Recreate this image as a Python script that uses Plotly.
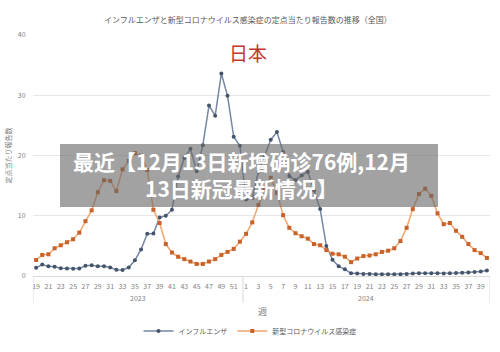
import plotly.graph_objects as go

# ---- data ----
weeks_2023 = list(range(19, 53))
weeks_2024 = list(range(1, 41))
years = ["2023", "2024"]

influenza_2023 = [1.35, 1.9, 1.6, 1.55, 1.3, 1.25, 1.2, 1.25, 1.7, 1.8, 1.6, 1.6, 1.4, 1.05, 1.0, 1.4, 2.6,
                  4.4, 7.0, 7.05, 9.7, 10.0, 11.0, 16.5, 19.6, 21.1, 17.4, 21.7, 28.3, 26.6, 33.6, 29.9, 23.1, 21.6]
influenza_2024 = [12.7, 12.9, 17.3, 19.8, 22.6, 23.9, 20.6, 16.6, 15.9, 16.7, 17.3, 14.2, 11.1, 5.0, 2.7, 1.6,
                  1.1, 0.45, 0.4, 0.35, 0.35, 0.3, 0.3, 0.3, 0.3, 0.3, 0.35, 0.4, 0.45, 0.45, 0.45, 0.45, 0.4,
                  0.45, 0.5, 0.55, 0.6, 0.65, 0.75, 0.9]
covid_2023 = [2.65, 3.5, 3.6, 4.6, 5.1, 5.6, 6.1, 7.2, 9.1, 10.9, 13.9, 15.9, 15.8, 14.1, 17.7, 19.1, 20.4,
              20.0, 17.6, 11.0, 8.8, 5.3, 3.9, 3.2, 2.8, 2.4, 2.0, 2.0, 2.4, 2.8, 3.5, 4.0, 4.5, 5.7]
covid_2024 = [7.0, 8.9, 11.8, 14.3, 16.3, 13.8, 10.1, 8.0, 7.1, 6.6, 6.2, 5.3, 5.1, 4.3, 3.7, 3.6, 3.2, 2.3,
              2.9, 3.3, 3.4, 3.6, 4.0, 4.2, 4.6, 5.8, 8.0, 11.1, 13.6, 14.5, 13.3, 10.4, 8.6, 8.8, 7.5, 6.5,
              5.3, 4.3, 3.8, 3.0]

series_names = ["インフルエンザ", "新型コロナウイルス感染症"]
chart_title = "インフルエンザと新型コロナウイルス感染症の定点当たり報告数の推移（全国）"
y_title = "定点当たり報告数"
x_title = "週"
overlay_text = "最近【12月13日新增确诊76例,12月<br>13日新冠最新情况】"
country_label = "日本"

# ---- build ----
week_labels = [str(w) for w in weeks_2023] + [str(w) for w in weeks_2024]
x_idx = list(range(len(week_labels)))
tick_vals = [i for i, w in enumerate(week_labels) if int(w) % 2 == 1]
tick_text = [week_labels[i] for i in tick_vals]
n23 = len(weeks_2023)
n_all = len(week_labels)

flu = influenza_2023 + influenza_2024
cov = covid_2023 + covid_2024

FONT = "Noto Sans CJK JP"
fig = go.Figure()
fig.add_trace(go.Scatter(
    x=x_idx, y=flu, name=series_names[0], mode="lines+markers",
    line=dict(color="#7587A3", width=1.5),
    marker=dict(symbol="circle", size=4, color="#44546A"),
))
fig.add_trace(go.Scatter(
    x=x_idx, y=cov, name=series_names[1], mode="lines+markers",
    line=dict(color="#F0A56E", width=1.5),
    marker=dict(symbol="square", size=4, color="#C8622A"),
))

L, R, T, B = 33, 10, 35, 76
PW, PH = 500 - L - R, 352 - T - B


def py(pix):
    return (352 - B - pix) / PH


def px(pix):
    return (pix - L) / PW


fig.update_layout(
    width=500, height=352,
    margin=dict(l=L, r=R, t=T, b=B, pad=0, autoexpand=False),
    paper_bgcolor="white", plot_bgcolor="white",
    font=dict(family=FONT, color="#595959", size=7),
    showlegend=True,
    legend=dict(orientation="h", x=0.5, xanchor="center", xref="container",
                y=(352 - 331) / 352, yanchor="middle", yref="container",
                font=dict(size=7, color="#595959"), itemwidth=30, tracegroupgap=0),
    xaxis=dict(range=[-0.5, n_all - 0.5], tickmode="array", tickvals=tick_vals, ticktext=tick_text,
               tickangle=0, showgrid=False, zeroline=False, showline=True, linecolor="#D9D9D9",
               linewidth=1, ticks="outside", ticklen=4, tickcolor="rgba(0,0,0,0)",
               tickfont=dict(size=7, color="#7F7F7F"), automargin=False),
    yaxis=dict(range=[0, 40], dtick=10, showgrid=True, gridcolor="#E6E6E6", gridwidth=1,
               zeroline=False, showline=False, ticks="outside", ticklen=5, tickcolor="rgba(0,0,0,0)",
               tickfont=dict(size=7, color="#7F7F7F"), automargin=False,
               title=dict(text=y_title, font=dict(size=7, color="#7F7F7F"), standoff=5)),
)


def ann(text, x, y, size, color, xref="paper", **kw):
    fig.add_annotation(text=text, xref=xref, yref="paper", x=x, y=y, xanchor="center",
                       yanchor="middle", showarrow=False,
                       font=dict(size=size, color=color, family=FONT), **kw)


# title
ann(chart_title, px(248), py(19), 8, "#595959")
# 日本
ann(country_label, px(248), py(53), 19, "#C0392B")
# year labels
ann(years[0], (n23 - 1) / 2, py(298), 7, "#7F7F7F", xref="x")
ann(years[1], n23 + (len(weeks_2024) - 1) / 2, py(298), 7, "#7F7F7F", xref="x")
# x title
ann(x_title, px(262), py(311), 9, "#7F7F7F")
# dividers
for xv in [-0.5, n23 - 0.5, n_all - 0.5]:
    fig.add_shape(type="line", xref="x", yref="paper", x0=xv, x1=xv, y0=0, y1=py(303),
                  line=dict(color="#D9D9D9", width=1))

# overlay box
fig.add_shape(type="rect", xref="paper", yref="paper", x0=px(60), x1=px(438),
              y0=py(207), y1=py(144), fillcolor="rgba(105,105,105,0.62)",
              line=dict(width=0), layer="above")
ann("<b>" + overlay_text + "</b>", px(241), py(174), 21, "white", align="center")

fig.write_html("out.html")
